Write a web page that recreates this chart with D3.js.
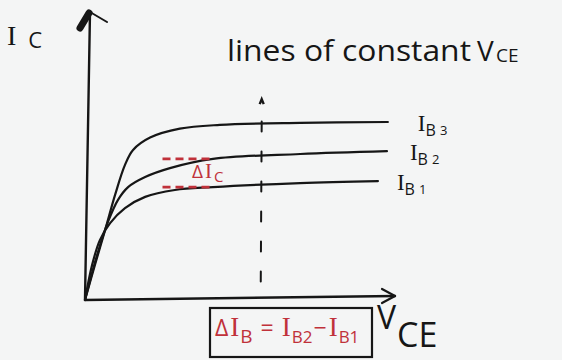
<!DOCTYPE html>
<html>
<head>
<meta charset="utf-8">
<script src="https://cdn.jsdelivr.net/npm/d3@7"></script>
<style>
  html, body { margin: 0; padding: 0; background: #f4f5f5; }
  svg { display: block; }
  text { font-family: "Open Sans", "DejaVu Sans", sans-serif; }
  .serif { font-family: "Liberation Serif", "DejaVu Serif", serif; }
</style>
</head>
<body>
<svg id="chart" width="562" height="360"></svg>
<script>
// Output characteristics of a transistor in CE configuration (sketch)
const curveNames = ["3", "2", "1"];          // I_B subscripts, top to bottom
const curveIB3 = [[0,0],[0.32,1.22],[0.65,2.43],[0.97,3.65],[1.29,4.69],[1.55,5.21],[2.10,5.64],[3.06,5.95],[4.35,6.08],[6.94,6.15],[9.77,6.18]];
const curveIB2 = [[0,0],[0.39,1.56],[0.74,2.71],[1.06,3.47],[1.39,3.92],[1.94,4.27],[2.74,4.58],[4.13,4.90],[6.94,5.07],[9.74,5.17]];
const curveIB1 = [[0,0],[0.23,1.22],[0.48,2.08],[0.81,2.67],[1.29,3.19],[1.94,3.58],[2.90,3.82],[4.13,3.92],[6.94,4.06],[9.45,4.13]];
const constVCE = 5.7;                          // the vertical line of constant V_CE
const deltaIcSpan = [2.5, 4.1];                // V_CE range of the ΔI_C markers
const deltaIcLevels = [4.9, 3.92];             // I_C at I_B2 and I_B1
const axisMax = [10, 10];                      // [V_CE, I_C]

const ink = "#161616", red = "#c0313a";
const svg = d3.select("#chart");

const x = d3.scaleLinear().domain([0, axisMax[0]]).range([85, 395]);
const y = d3.scaleLinear().domain([0, axisMax[1]]).range([300, 12]);

// axes
svg.append("line").attr("x1", x(0)).attr("y1", y(0)).attr("x2", x(0) + 5).attr("y2", y(axisMax[1]))
  .attr("stroke", ink).attr("stroke-width", 2.4).attr("stroke-linecap", "round");
svg.append("line").attr("x1", x(0)).attr("y1", y(0)).attr("x2", x(axisMax[0])).attr("y2", y(0) - 4)
  .attr("stroke", ink).attr("stroke-width", 2.4).attr("stroke-linecap", "round");

// arrow heads
const yTop = [x(0) + 5, y(axisMax[1])];
svg.append("path").attr("d", `M${yTop[0] - 1},${yTop[1] + 1} L${yTop[0] - 10},${yTop[1] + 16}`)
  .attr("stroke", ink).attr("stroke-width", 7).attr("stroke-linecap", "round").attr("fill", "none");
svg.append("path").attr("d", `M${yTop[0]},${yTop[1]} L${yTop[0] + 17},${yTop[1] + 10}`)
  .attr("stroke", ink).attr("stroke-width", 2).attr("stroke-linecap", "round").attr("fill", "none");
const xEnd = [x(axisMax[0]), y(0) - 4];
svg.append("path").attr("d", `M${xEnd[0] - 13},${xEnd[1] - 7} L${xEnd[0]},${xEnd[1]} L${xEnd[0] - 13},${xEnd[1] + 7}`)
  .attr("stroke", ink).attr("stroke-width", 2.2).attr("stroke-linecap", "round").attr("stroke-linejoin", "round").attr("fill", "none");

// characteristic curves
const line = d3.line().x(d => x(d[0])).y(d => y(d[1])).curve(d3.curveCatmullRom.alpha(0.5));
const curves = [curveIB3, curveIB2, curveIB1];
svg.selectAll("path.curve").data(curves).join("path").attr("class", "curve")
  .attr("d", line).attr("fill", "none").attr("stroke", ink).attr("stroke-width", 2.2).attr("stroke-linecap", "round");

// curve labels
const labelOffsets = [30, 23, 19];
curves.forEach((c, i) => {
  const last = c[c.length - 1];
  const g = svg.append("text").attr("x", x(last[0]) + labelOffsets[i]).attr("y", y(last[1]) + 9).attr("fill", ink);
  g.append("tspan").attr("class", "serif").attr("font-size", 23).text("I");
  g.append("tspan").attr("font-size", 16).attr("dy", 5).text("B");
  g.append("tspan").attr("font-size", 13).attr("dx", 4).attr("dy", -1).text(curveNames[i]);
});

// line of constant V_CE
svg.append("line").attr("x1", x(constVCE)).attr("y1", y(6.2)).attr("x2", x(constVCE) - 1).attr("y2", y(0.3))
  .attr("stroke", ink).attr("stroke-width", 2).attr("stroke-dasharray", "10 20").attr("stroke-linecap", "round");
svg.append("path").attr("d", `M${x(constVCE) - 2},${y(6.8)} l2,-5 l2,5`)
  .attr("stroke", ink).attr("stroke-width", 2.4).attr("fill", "none");

// ΔI_C markers
svg.selectAll("line.dic").data(deltaIcLevels).join("line").attr("class", "dic")
  .attr("x1", x(deltaIcSpan[0])).attr("x2", x(deltaIcSpan[1]))
  .attr("y1", d => y(d)).attr("y2", d => y(d))
  .attr("stroke", red).attr("stroke-width", 2.6).attr("stroke-dasharray", "8 5");
const dic = svg.append("text").attr("x", x(3.45)).attr("y", y(4.25)).attr("fill", red);
dic.append("tspan").attr("font-size", 19).text("Δ");
dic.append("tspan").attr("class", "serif").attr("font-size", 21).attr("dx", 2).text("I");
dic.append("tspan").attr("font-size", 15).attr("dx", 2).attr("dy", 4).text("C");

// axis titles
const ic = svg.append("text").attr("x", 7).attr("y", 45).attr("fill", ink);
ic.append("tspan").attr("class", "serif").attr("font-size", 28).text("I");
ic.append("tspan").attr("font-size", 22).attr("dx", 12).attr("dy", 3).text("C");

svg.append("text").attr("x", 377).attr("y", 329).attr("fill", ink).attr("font-size", 32).text("V");
svg.append("text").attr("x", 397).attr("y", 347).attr("fill", ink).attr("font-size", 34).text("CE");

// heading
svg.append("text").attr("x", 227).attr("y", 61).attr("fill", ink).attr("font-size", 29)
  .attr("textLength", 244).attr("lengthAdjust", "spacingAndGlyphs").text("lines of constant");
svg.append("text").attr("x", 477).attr("y", 61).attr("fill", ink).attr("font-size", 28).text("V");
svg.append("text").attr("x", 496).attr("y", 62).attr("fill", ink).attr("font-size", 19).text("CE");

// boxed relation ΔI_B = I_B2 − I_B1
svg.append("rect").attr("x", 210).attr("y", 308).attr("width", 162).attr("height", 49)
  .attr("fill", "none").attr("stroke", ink).attr("stroke-width", 2.2);
const rel = svg.append("text").attr("x", 215).attr("y", 336).attr("fill", red);
rel.append("tspan").attr("font-size", 23).text("Δ");
rel.append("tspan").attr("class", "serif").attr("font-size", 27).attr("dx", 2).text("I");
rel.append("tspan").attr("font-size", 19).attr("dx", 1).attr("dy", 7).text("B");
rel.append("tspan").attr("font-size", 23).attr("dx", 8).attr("dy", -7).text("=");
rel.append("tspan").attr("class", "serif").attr("font-size", 27).attr("dx", 8).text("I");
rel.append("tspan").attr("font-size", 17).attr("dx", 1).attr("dy", 7).text("B2");
rel.append("tspan").attr("font-size", 23).attr("dx", 1).attr("dy", -7).text("−");
rel.append("tspan").attr("class", "serif").attr("font-size", 27).attr("dx", 2).text("I");
rel.append("tspan").attr("font-size", 17).attr("dx", 1).attr("dy", 7).text("B1");
</script>
</body>
</html>
